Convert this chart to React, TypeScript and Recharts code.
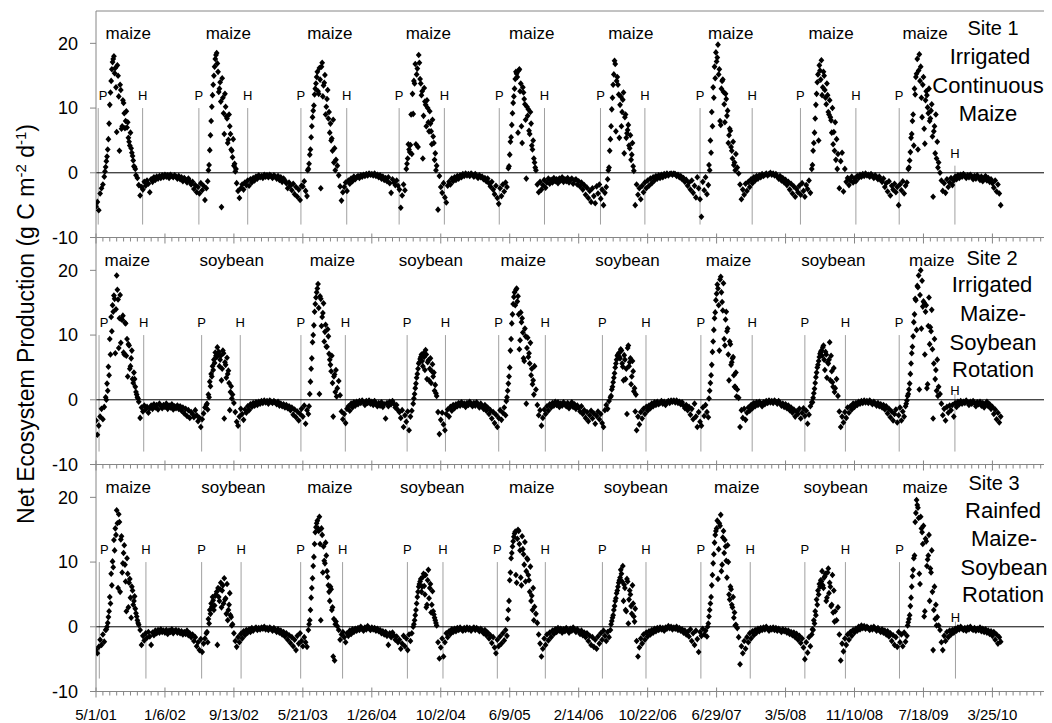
import React from "react";
import {
  ScatterChart,
  Scatter,
  XAxis,
  YAxis,
  ReferenceLine,
  ReferenceDot,
} from "recharts";

// daily NEP sampled every 5 days, day 0 = 5/1/01
const stepDays = 5;

const tickLabels = [
  "5/1/01", "1/6/02", "9/13/02", "5/21/03", "1/26/04", "10/2/04", "6/9/05",
  "2/14/06", "10/22/06", "6/29/07", "3/5/08", "11/10/08", "7/18/09", "3/25/10",
];
const yTicks = [-10, 0, 10, 20];

const site1Nep = [
  -5.2, -4.5, -5.8, -3.2, -2.4, -1.8, -0.6, 0.9, 2.5, 5.2,
  10.5, 14.2, 17.1, 18.0, 16.2, 6.3, 15.0, 3.4, 12.8, 7.2,
  10.8, 6.9, 9.5, 7.8, 4.8, 6.2, 3.1, 1.9, 0.9, -0.4,
  -0.8, -1.9, -3.5, -2.2, -2.6, -1.4, -2.0, -1.2, -1.7, -3.0,
  -1.0, -1.4, -0.7, -1.1, -0.6, -0.9, -0.5, -0.8, -0.4, -0.7,
  -0.3, -0.6, -0.4, -0.8, -0.3, -0.5, -0.7, -0.4, -0.6, -0.9,
  -0.5, -1.0, -0.7, -1.3, -0.8, -1.1, -1.5, -0.9, -1.3, -1.8,
  -1.4, -2.5, -1.9, -3.0, -2.2, -3.2, -1.6, -2.7, -2.0, -4.2,
  -2.4, -1.3, 1.2, 5.8, 10.2, 13.6, 16.4, 18.2, 16.9, 12.5,
  14.0, -5.3, 11.6, 6.0, 10.2, 8.4, 5.1, 7.2, 3.6, 2.4,
  1.1, 0.2, -1.6, -2.8, -3.9, -2.4, -1.8, -2.6, -1.5, -1.9,
  -1.2, -2.0, -1.0, -1.5, -0.8, -1.2, -0.6, -0.9, -0.4, -0.7,
  -0.5, -0.8, -0.3, -0.6, -0.4, -0.7, -0.3, -0.5, -0.8, -0.4,
  -0.6, -0.9, -0.5, -1.1, -0.7, -1.4, -0.9, -1.2, -1.6, -2.4,
  -1.5, -2.0, -2.7, -1.7, -3.3, -2.2, -3.7, -2.6, -4.2, -2.0,
  -2.1, -1.3, -2.8, -3.6, 0.6, 2.8, 5.5, 8.6, 10.4, 13.0,
  14.8, 12.6, 16.2, -2.4, 17.0, 13.5, 15.1, 10.2, 12.8, 9.4,
  7.6, 5.3, 8.2, 3.8, 2.0, 1.1, -0.4, -2.1, -4.3, -3.0,
  -2.2, -1.5, -2.8, -1.2, -1.7, -0.9, -1.3, -0.6, -1.0, -0.7,
  -0.5, -0.8, -0.4, -0.6, -0.3, -0.5, -0.2, -0.4, -0.1, -0.3,
  -0.2, -0.4, -0.1, -0.5, -0.3, -0.7, -0.4, -0.9, -0.6, -1.1,
  -0.8, -1.3, -0.7, -1.6, -3.1, -1.0, -1.5, -1.9, -1.2, -2.0,
  -2.6, -5.4, -3.5, -1.8, -2.7, 0.6, 2.2, 3.6, 4.3, 2.9,
  9.1, 13.8, 4.4, 16.1, 18.2, 14.5, 12.0, 2.2, 13.1, 10.5,
  11.2, 7.8, 9.5, 6.4, 8.2, 4.6, 3.0, 1.1, -5.7, -0.5,
  -2.2, -3.1, -1.6, -3.8, -4.6, -2.0, -1.4, -1.8, -0.9, -1.3,
  -0.7, -1.1, -0.5, -0.9, -0.4, -0.7, -0.2, -0.5, -0.1, -0.4,
  -0.2, -0.5, -0.1, -0.3, -0.6, -0.2, -0.5, -0.8, -0.4, -0.7,
  -0.6, -1.0, -0.8, -1.3, -0.9, -1.6, -2.1, -1.4, -2.6, -3.3,
  -2.0, -3.9, -4.8, -2.4, -3.6, -1.8, -2.9, -1.5, -2.2, 0.7,
  2.8, 5.5, 9.2, 11.8, 14.5, 15.3, 6.2, 16.0, 13.8, 4.6,
  12.4, 10.6, -0.9, 8.8, 6.5, 9.4, 4.2, 5.0, 1.6, 0.4,
  -1.8, -3.0, -1.4, -2.6, -1.9, -1.1, -2.3, -1.5, -0.9, -1.7,
  -1.1, -1.5, -0.8, -1.3, -1.0, -1.6, -0.9, -1.2, -0.7, -1.4,
  -1.0, -1.3, -0.8, -1.5, -1.1, -0.9, -1.7, -1.2, -1.0, -1.8,
  -1.3, -2.1, -1.5, -2.6, -1.9, -3.4, -2.3, -3.9, -2.8, -4.5,
  -2.4, -3.6, -4.7, -2.1, -3.2, -1.8, -4.0, -2.6, -5.0, -3.1,
  -2.2, -1.0, 0.8, 5.2, 9.8, 13.6, 17.3, 6.4, 14.8, 12.1,
  10.5, 7.2, 11.3, 3.0, 9.0, 6.1, 7.4, 3.8, 2.0, 4.6,
  0.3, -5.0, -1.8, -3.4, -2.4, -4.1, -2.0, -3.0, -1.5, -2.4,
  -1.2, -2.0, -0.9, -1.6, -0.7, -1.2, -0.5, -0.9, -0.4, -0.8,
  -0.3, -0.7, -0.2, -0.5, -0.1, -0.4, -0.2, -0.1, -0.3, -0.1,
  -0.2, -0.5, -0.3, -0.7, -0.5, -1.0, -0.8, -1.4, -1.1, -2.0,
  -1.5, -2.6, -1.2, -3.1, -2.0, -3.8, -0.7, -2.4, -4.1, -6.8,
  -1.4, -2.7, -0.7, -3.3, -1.9, 0.4, 3.1, 7.2, 11.6, 14.6,
  17.2, 19.8, 16.0, 7.4, 14.2, 12.5, 7.8, 11.4, 9.6, 5.8,
  6.5, 3.4, 4.8, 1.6, 2.9, 0.8, -0.1, -1.8, -4.1, -2.6,
  -3.4, -1.7, -2.8, -1.4, -2.2, -1.0, -1.6, -0.7, -1.2, -0.5,
  -0.9, -0.4, -0.7, -0.2, -0.5, -0.3, -0.1, -0.4, -0.2, 0.0,
  -0.3, -0.1, -0.4, -0.2, -0.6, -0.9, -0.5, -1.2, -0.8, -1.5,
  -1.1, -1.9, -1.4, -2.6, -1.7, -3.2, -2.1, -3.7, -2.5, -3.0,
  -2.0, -3.4, -1.6, -2.8, -3.7, -1.9, -2.5, -1.2, -3.1, 0.6,
  3.4, 6.2, 10.5, 14.0, 5.0, 15.8, 17.4, 13.2, 15.0, 11.6,
  13.8, 9.4, 11.2, 8.1, 10.0, 6.3, 7.8, 5.2, 2.9, -2.4,
  1.8, 3.1, -2.9, 0.6, -1.4, -0.8, -1.9, -1.2, -0.6, -1.5,
  -0.9, -1.3, -0.5, -0.8, -0.3, -0.6, -0.2, -0.5, -0.1, -0.4,
  -0.3, -0.6, -0.2, -0.5, -0.8, -0.4, -0.7, -1.0, -0.6, -1.1,
  -1.4, -0.9, -2.2, -1.6, -2.9, -1.3, -3.5, -2.0, -2.6, -1.7,
  -3.0, -2.2, -5.0, -1.8, -2.7, -1.3, -3.2, -2.0, -1.5, 0.6,
  1.9, 5.4, 8.0, 4.2, 12.1, 15.3, 3.6, 18.3, 16.4, 8.6,
  14.8, 4.5, 12.6, 10.1, 13.0, 8.4, 10.6, -3.7, 7.2, 9.0,
  4.8, 1.6, 0.0, -1.2, -2.8, -1.6, -3.1, -1.0, -2.2, -1.5,
  -0.8, -1.9, -1.2, -0.6, -1.0, -0.4, -0.8, -0.3, -0.6, -0.2,
  -0.5, -0.8, -0.4, -0.7, -0.3, -0.6, -1.0, -0.5, -0.9, -0.4,
  -0.7, -1.1, -0.6, -1.3, -0.9, -0.5, -1.2, -0.8, -1.4, -1.0,
  -1.6, -2.3, -1.2, -2.9, -1.8, -3.2, -5.0,
];

const site2Nep = [
  -3.2, -5.4, -4.0, -2.6, -1.4, -3.0, -1.1, 0.4, 2.5, 5.1,
  9.4, 12.8, 14.6, 16.1, 7.2, 19.2, 15.5, 12.6, 8.8, 12.4,
  7.3, 11.9, 6.8, 3.6, 8.4, 5.2, 7.6, 2.6, 3.2, 1.2,
  0.4, -0.3, -2.8, -1.2, -1.8, -0.9, -1.5, -1.1, -2.0, -1.3,
  -0.9, -1.4, -0.7, -1.2, -0.8, -1.5, -0.6, -1.0, -1.3, -0.8,
  -1.1, -0.6, -1.4, -0.9, -1.2, -0.7, -1.5, -1.0, -1.3, -0.9,
  -1.4, -1.0, -1.7, -1.2, -2.1, -1.4, -2.5, -1.6, -2.8, -1.9,
  -2.2, -2.7, -1.6, -2.4, -3.3, -2.8, -4.2, -3.0, -2.1, -1.2,
  -0.8, -1.5, 0.4, 2.1, 3.6, 4.6, 5.7, 6.8, 8.1, 7.4,
  6.2, 3.0, 7.6, -2.9, 5.4, 6.5, 4.5, -1.6, 2.1, 0.8,
  -0.5, -1.9, -3.4, -4.0, -2.6, -1.4, -2.2, -3.1, -1.5, -2.0,
  -1.0, -1.6, -0.7, -1.1, -0.5, -0.9, -0.4, -0.8, -0.3, -0.6,
  -0.2, -0.5, -0.1, -0.4, -0.2, -0.6, -0.1, -0.3, -0.5, -0.2,
  -0.4, -0.7, -0.3, -0.9, -0.6, -1.0, -0.7, -1.2, -0.8, -1.3,
  -1.0, -1.6, -1.2, -2.3, -1.5, -2.7, -1.8, -3.2, -2.2, -1.4,
  -2.6, -0.9, -3.7, -1.6, -2.2, 0.9, 4.8, 8.9, 11.5, 14.8,
  16.6, 17.9, 0.9, 15.6, 12.8, 14.9, 10.5, 8.2, 10.9, 7.1,
  5.4, 6.8, -2.6, 3.9, 4.6, 1.8, 2.9, 0.7, -1.8, -3.0,
  -2.2, -3.6, -1.4, -1.0, -1.7, -0.6, -1.2, -0.4, -0.9, -0.3,
  -0.7, -0.2, -0.5, -0.1, -0.4, -0.8, -0.2, -0.5, -0.1, -0.6,
  -0.3, -0.8, -0.2, -0.6, -1.0, -0.5, -0.9, -0.4, -1.1, -0.7,
  -2.9, -0.5, -1.0, -0.3, -0.7, -0.2, -0.6, -1.2, -0.8, -1.6,
  -1.9, -2.8, -1.6, -4.2, -2.4, -3.4, -1.8, -4.7, -2.6, -1.7,
  -0.6, 0.9, 2.5, 4.0, 5.6, 6.3, 7.0, 5.2, 6.6, 7.7,
  3.2, 6.1, 4.8, 2.6, 5.5, 4.2, 2.3, 0.6, -1.9, -5.3,
  -3.1, -2.0, -3.8, -4.7, -2.2, -1.5, -2.6, -1.1, -1.7, -0.8,
  -1.3, -0.7, -1.0, -0.5, -0.9, -0.4, -0.8, -0.6, -1.1, -0.5,
  -0.8, -0.3, -0.7, -1.0, -0.5, -0.9, -0.4, -0.8, -1.2, -0.6,
  -1.0, -1.4, -0.8, -1.7, -1.2, -2.2, -1.6, -2.9, -1.9, -3.6,
  -2.3, -4.2, -2.8, -1.6, -3.1, -2.0, -1.2, -2.4, 0.4, 2.5,
  5.0, 9.4, 13.2, 15.9, 14.6, 17.2, 16.0, 7.8, 13.5, 12.6,
  6.4, 11.0, -0.6, 9.6, 7.2, 8.8, 4.8, 3.0, 5.2, 1.6,
  -0.8, -2.4, -1.6, -4.0, -2.8, -1.5, -2.2, -1.0, -1.7, -0.7,
  -1.2, -0.5, -0.9, -0.3, -0.8, -0.4, -1.1, -0.6, -0.9, -0.4,
  -0.7, -1.0, -0.5, -1.3, -0.8, -0.4, -1.1, -0.7, -1.4, -0.9,
  -1.2, -1.8, -1.0, -2.2, -1.6, -2.8, -1.9, -3.3, -2.4, -1.7,
  -2.9, -2.1, -3.7, -2.5, -1.8, -3.0, -2.2, -3.6, -4.2, -1.6,
  -0.8, -1.4, -0.2, 0.4, 1.6, 2.7, 4.1, 5.6, 6.8, 7.2,
  6.4, 7.6, 5.1, 6.9, 3.2, -2.2, 8.4, 5.8, 2.4, 6.0,
  1.3, -1.8, -4.7, -2.6, -3.8, -1.9, -2.9, -1.4, -2.2, -1.1,
  -1.7, -0.9, -1.3, -0.6, -1.0, -0.4, -0.8, -0.3, -0.7, -0.5,
  -0.2, -0.6, -0.3, -0.8, -0.4, -0.2, -0.5, -0.1, -0.3, -0.1,
  -0.4, -0.1, -0.5, -0.3, -0.7, -0.4, -0.9, -1.3, -0.8, -1.6,
  -1.1, -2.3, -1.4, -3.0, -0.6, -2.6, -4.2, -1.9, -3.4, -4.0,
  -1.2, -2.5, -0.8, -1.9, -2.7, 1.4, 3.8, 7.4, 10.8, 13.5,
  16.4, 17.2, 7.6, 19.0, 15.1, 18.0, 8.4, 13.6, 11.0, 3.0,
  8.6, 5.8, 6.6, 2.0, 4.2, 1.6, 0.3, -4.2, -1.6, -2.8,
  -1.4, -3.1, -2.0, -1.2, -1.7, -0.8, -1.3, -0.5, -1.0, -0.4,
  -0.8, -0.3, -0.6, -1.0, -0.4, -0.7, -0.2, -0.5, -0.1, -0.4,
  -0.2, -0.5, -0.1, -0.3, -0.6, -0.2, -0.5, -0.9, -0.6, -1.1,
  -0.7, -1.3, -0.9, -1.6, -1.2, -2.0, -1.5, -2.6, -1.8, -2.2,
  -1.4, -2.9, -2.0, -1.3, -2.5, -1.7, -3.7, -2.3, -1.0, -0.4,
  0.3, 1.7, 3.5, 5.0, 6.0, 7.1, 7.6, 8.1, 6.2, 7.4,
  3.4, 5.6, 8.9, 6.8, 2.7, 4.9, 1.8, 3.2, 0.6, -1.8,
  -4.2, -2.6, -3.5, -1.9, -2.8, -1.2, -2.0, -1.0, -1.5, -0.6,
  -1.1, -0.5, -0.8, -0.3, -0.6, -0.2, -0.5, -0.1, -0.4, -0.2,
  -0.5, -0.1, -0.4, -0.7, -0.3, -0.6, -0.9, -0.5, -1.0, -0.7,
  -1.2, -0.8, -1.5, -1.0, -2.1, -1.4, -2.7, -1.8, -3.2, -2.2,
  -1.5, -3.5, -2.4, -1.2, -3.2, -1.8, -2.6, -1.0, -0.1, 0.9,
  2.5, 5.6, 8.2, 12.0, 15.6, 10.8, 17.4, 1.6, 20.0, 18.4,
  15.2, 7.0, 14.6, 2.4, 15.8, 11.2, 13.9, -2.9, 9.4, 4.6,
  6.2, 2.0, 0.9, -0.6, -2.4, -1.4, -3.2, -1.1, -2.0, -0.9,
  -1.6, -0.8, -2.6, -0.5, -1.1, -0.3, -0.7, -0.2, -0.6, -0.3,
  -0.5, -0.1, -0.4, -0.8, -0.3, -0.6, -0.2, -0.5, -1.0, -0.4,
  -0.7, -0.3, -0.9, -0.5, -1.2, -0.6, -0.3, -1.0, -0.7, -1.4,
  -1.1, -2.2, -1.5, -3.0, -2.0, -3.5, -2.6,
];

const site3Nep = [
  -3.6, -4.1, -3.1, -2.0, -2.8, -1.2, -2.3, -0.5, 0.0, 1.5,
  4.6, 8.2, 10.1, 13.4, 15.2, 18.0, 6.0, 16.2, 13.5, 8.4,
  11.4, 9.6, 2.4, 8.2, 6.8, 4.5, 6.2, 3.4, 4.7, 2.1,
  1.0, 0.3, -0.5, -2.8, -1.4, -2.1, -1.0, -1.7, -0.8, -1.5,
  -2.8, -0.9, -1.3, -0.6, -1.0, -0.5, -0.9, -0.4, -0.8, -0.6,
  -0.9, -0.5, -1.1, -0.6, -0.8, -0.4, -1.0, -0.7, -0.5, -0.9,
  -0.6, -1.0, -0.7, -1.2, -0.8, -1.1, -0.6, -1.3, -1.0, -1.6,
  -1.2, -2.2, -1.6, -3.0, -2.4, -3.6, -1.9, -3.9, -2.6, -1.8,
  -1.0, -2.4, 0.5, 2.0, 3.1, 4.1, 3.3, 5.0, -2.8, 4.6,
  5.8, 3.0, 6.4, 7.5, 4.4, 6.6, 2.6, 5.2, 1.5, 0.4,
  -1.0, -2.2, -3.1, -1.6, -2.4, -1.1, -1.8, -0.7, -1.3, -0.5,
  -0.9, -0.4, -0.8, -0.2, -0.6, -0.3, -0.1, -0.5, -0.2, -0.4,
  -0.1, -0.3, 0.0, -0.4, -0.2, -0.5, -0.1, -0.3, -0.6, -0.2,
  -0.5, -0.8, -0.4, -0.9, -0.6, -1.2, -0.8, -1.5, -1.0, -2.0,
  -1.3, -2.5, -1.6, -3.0, -2.0, -3.6, -1.4, -2.6, -1.0, -2.2,
  -3.0, -1.6, -2.4, -3.1, -0.5, 1.0, 4.5, 7.5, 10.8, 14.6,
  16.0, 15.2, 17.0, 1.0, 14.2, 12.4, 9.8, 11.0, 7.7, 5.4,
  6.2, 2.6, -4.6, -5.2, 0.8, 0.1, -0.5, -2.0, -1.2, -0.8,
  -1.6, -2.4, -1.0, -1.4, -0.6, -1.1, -0.4, -0.8, -0.3, -0.6,
  -0.2, -0.5, 0.0, -0.3, -0.6, -0.1, -0.4, 0.1, -0.2, -0.5,
  -0.1, -0.4, -0.2, -0.6, -0.3, -0.7, -0.5, -1.0, -0.7, -1.2,
  -0.8, -1.4, -2.8, -1.0, -1.6, -0.9, -1.3, -2.0, -1.5, -2.4,
  -2.0, -3.4, -2.6, -1.4, -3.0, -1.8, -3.6, -1.2, -2.2, -1.0,
  0.0, 1.0, 2.6, 4.6, 6.2, 7.0, 5.4, 7.7, 6.3, 8.0,
  3.4, 8.8, 6.0, 2.2, 5.5, 1.9, 1.0, 0.2, -2.4, -4.9,
  -3.2, -1.8, -4.6, -2.4, -1.0, -1.6, -0.7, -1.1, -0.4, -0.8,
  -0.3, -0.7, -0.2, -0.5, -0.1, -0.4, -0.6, -0.2, -0.5, -0.1,
  -0.4, -0.2, -0.6, -0.3, -0.1, -0.5, -0.2, -0.4, -0.7, -0.3,
  -0.6, -1.0, -0.5, -1.3, -0.9, -1.8, -1.3, -2.5, -1.6, -3.2,
  -4.1, -2.0, -3.0, -1.5, -2.6, -1.0, -2.1, -0.5, -1.4, 2.6,
  7.2, 10.6, 12.4, 13.9, 14.7, 6.8, 15.0, 12.8, 7.6, 14.0,
  11.2, 13.1, 8.6, 10.4, 7.2, 9.3, 4.8, 6.0, 3.1, 2.0,
  0.6, -1.2, -2.6, -4.6, -3.4, -1.8, -2.8, -1.2, -2.1, -0.9,
  -1.6, -0.6, -1.1, -0.4, -0.8, -0.2, -0.6, -0.3, -0.9, -0.4,
  -0.7, -0.2, -0.5, -0.9, -0.3, -0.6, -0.1, -0.5, -0.8, -0.4,
  -0.7, -1.1, -0.6, -1.3, -0.9, -1.6, -1.0, -2.2, -1.4, -2.8,
  -1.6, -3.1, -2.0, -3.4, -1.5, -2.6, -1.0, -2.0, -0.6, -1.4,
  -2.2, -0.8, -1.6, -0.5, 0.9, 1.8, 3.2, 4.4, 5.6, 6.8,
  7.6, 8.2, 9.4, 6.5, 2.6, 7.4, 0.5, 5.6, 3.2, 6.4,
  1.6, 2.8, -2.2, -4.6, -3.2, -1.8, -2.6, -1.2, -2.0, -0.9,
  -1.5, -0.7, -1.2, -0.5, -0.9, -0.3, -0.7, -0.2, -0.5, -0.1,
  -0.4, -0.2, -0.6, -0.1, -0.3, 0.1, -0.2, 0.0, -0.4, -0.1,
  -0.3, 0.0, -0.5, -0.2, -0.6, -0.4, -0.9, -0.6, -1.2, -0.8,
  -1.5, -0.4, -2.2, -1.0, -2.8, -0.6, -1.9, -3.9, -0.8, -1.4,
  -0.3, -1.2, -0.6, -1.5, 0.5, 2.6, 4.6, 8.0, 11.2, 14.2,
  15.2, 7.4, 16.0, 17.3, 9.6, 14.8, 13.4, 10.2, 12.6, 5.0,
  6.2, 3.4, 4.6, 2.2, 0.3, -0.2, -1.6, -5.8, -3.0, -4.1,
  -2.2, -3.4, -1.6, -2.4, -1.0, -1.8, -0.7, -1.3, -0.5, -0.9,
  -0.3, -0.7, -0.2, -0.5, -0.1, -0.4, 0.0, -0.3, -0.6, -0.2,
  -0.4, -0.1, -0.5, -0.2, -0.6, -0.3, -0.5, -0.8, -0.4, -0.7,
  -0.5, -0.9, -0.6, -1.1, -0.8, -1.3, -0.9, -1.6, -1.1, -2.0,
  -1.4, -2.5, -1.8, -3.2, -5.0, -2.4, -4.0, -1.6, -3.0, -1.2,
  -0.5, 0.5, 1.8, 3.4, 5.0, 6.2, 7.0, 6.4, 7.6, 8.2,
  4.5, 9.0, 6.8, 3.2, 8.0, 5.6, 2.4, 1.0, 3.0, -1.2,
  -5.2, -2.6, -3.8, -1.8, -2.8, -1.2, -2.0, -0.8, -1.4, -0.5,
  -0.9, -0.3, -0.6, 0.0, -0.4, 0.2, -0.2, 0.1, -0.3, 0.0,
  -0.2, -0.5, -0.1, -0.4, 0.0, -0.3, -0.6, -0.2, -0.5, -0.8,
  -0.4, -0.9, -0.6, -1.2, -0.7, -1.5, -1.0, -2.2, -1.3, -2.8,
  -1.6, -3.1, -0.8, -2.4, -1.2, -3.0, -0.9, -2.3, -1.4, 0.7,
  1.8, 4.5, 7.8, 10.6, 16.2, 19.6, 18.4, 8.2, 17.0, 14.6,
  15.6, 2.4, 13.2, 10.4, 14.2, 9.0, 11.8, -3.6, 6.2, 3.4,
  1.5, 0.2, -0.5, -2.4, -3.6, -1.4, -2.2, -0.8, -1.6, -0.6,
  -1.2, -0.5, -0.9, -0.3, -0.6, -0.1, -0.4, 0.0, -0.3, -0.5,
  -0.2, -0.6, -0.1, -0.4, 0.0, -0.3, -0.5, -0.2, -0.6, -0.3,
  -0.5, -0.1, -0.7, -0.3, -0.8, -0.4, -0.9, -0.6, -1.1, -0.7,
  -1.4, -0.8, -2.0, -1.2, -2.6, -1.6, -2.3,
];

// extra growing-season readings (between the 5-day samples), one row per season;
// the row starts on the day given in the matching *SeasonStart entry
const site1SeasonStart = [32.5, 407.5, 767.5, 1127.5, 1497.5, 1857.5, 2222.5, 2597.5, 2947.5];
const site1SeasonNep = [
  [0.2, 1.8, 3.6, 7.6, 12.4, 16.0, 17.6, 15.4, 13.2, 16.6, 11.8, 13.6, 6.8, 11.2, 9.2, 8.0, 7.0, 5.4, 4.2, 3.8, 2.6, 1.0, 0.6],
  [0.4, 3.5, 8.0, 12.0, 15.0, 17.6, 18.5, 15.6, 13.0, 11.0, 14.6, 9.2, 12.2, 8.7, 4.6, 9.0, 6.0, 3.4, 5.2, 1.4, 0.6],
  [0.4, 1.4, 3.6, 7.2, 9.6, 12.1, 13.8, 15.6, 12.2, 14.4, 16.4, 11.8, 13.9, 9.0, 11.4, 8.4, 6.2, 5.0, 3.4, 1.6, 0.4],
  [1.4, 4.4, 3.2, 9.0, 12.2, 14.2, 16.8, 15.2, 4.0, 17.0, 13.8, 12.6, 8.8, 11.0, 7.2, 10.0, 6.4, 7.6, 4.4, 5.6, 2.0, 0.4],
  [1.0, 4.8, 7.4, 10.8, 13.0, 15.6, 14.8, 15.8, 12.6, 7.2, 13.2, 11.4, 8.2, 10.2, 9.8, 6.0, 7.6, 3.6, 2.2, 0.8],
  [0.4, 3.4, 7.2, 11.6, 15.2, 16.8, 14.2, 13.6, 5.4, 11.8, 9.4, 12.4, 8.6, 5.4, 6.6, 4.2, 5.8, 2.8, 1.0],
  [1.2, 5.0, 9.4, 13.2, 16.4, 18.6, 17.8, 15.2, 8.0, 13.0, 14.4, 10.6, 12.2, 8.8, 4.6, 6.8, 4.0, 2.2, 1.2, 0.4],
  [1.2, 4.6, 8.4, 12.2, 15.2, 16.6, 14.4, 12.0, 15.6, 12.8, 10.6, 12.0, 9.0, 8.6, 6.2, 4.4, 3.4, 2.0, 0.6],
  [0.8, 3.2, 6.0, 9.0, 13.0, 14.8, 17.6, 15.8, 14.2, 11.6, 13.6, 6.8, 11.2, 12.0, 9.2, 8.0, 9.6, 5.6, 6.4, 3.0, 2.2, 0.8],
];
const site2SeasonStart = [37.5, 402.5, 772.5, 1152.5, 1487.5, 1867.5, 2222.5, 2597.5, 2937.5];
const site2SeasonNep = [
  [0.0, 1.4, 3.8, 7.0, 10.6, 13.6, 15.6, 14.0, 17.0, 8.0, 16.2, 12.4, 13.0, 7.0, 11.8, 9.4, 8.6, 4.8, 6.4, 3.2, 4.2, 2.0, 0.8, 0.2],
  [-0.6, 0.8, 2.8, 4.0, 5.2, 6.2, 7.3, 6.6, 7.0, 5.2, 6.8, 4.8, 7.2, 5.8, 3.4, 4.0, 2.6, 1.2, 0.2],
  [-1.0, 2.8, 6.4, 10.0, 13.6, 15.8, 17.2, 14.2, 16.0, 11.4, 13.4, 9.0, 11.6, 8.2, 9.8, 6.2, 4.4, 2.6, 3.6, 1.2, 0.5],
  [0.2, 1.8, 3.4, 4.8, 5.8, 6.6, 6.0, 7.2, 4.6, 7.0, 5.8, 3.0, 6.4, 4.4, 3.6, 1.4, 1.0],
  [-0.2, 1.4, 3.6, 7.6, 11.8, 14.8, 16.6, 17.0, 15.2, 13.2, 9.2, 12.0, 10.4, 6.0, 9.8, 8.0, 6.6, 5.6, 3.8, 2.4, 0.8],
  [0.6, 2.0, 3.4, 5.0, 6.2, 7.0, 6.6, 7.8, 5.6, 3.0, 6.2, 4.8, 8.0, 5.2, 6.4, 3.6, 4.4, 1.8, 0.8],
  [0.2, 2.6, 5.4, 9.0, 12.6, 15.4, 17.8, 14.6, 18.6, 16.6, 13.8, 9.4, 12.4, 10.6, 7.0, 9.0, 5.4, 6.4, 3.8, 2.0, 0.5],
  [-0.4, 1.0, 2.6, 4.2, 5.4, 6.6, 7.4, 6.8, 8.4, 4.6, 7.0, 5.8, 6.2, 3.0, 4.4, 2.0, 1.2],
  [-0.6, 0.6, 1.6, 4.0, 7.2, 9.8, 13.2, 15.4, 17.6, 19.2, 16.2, 11.0, 14.4, 15.0, 13.6, 1.8, 11.4, 8.6, 10.6, 7.8, 5.6, 3.2, 1.4, 0.6],
];
const site3SeasonStart = [37.5, 402.5, 772.5, 1152.5, 1492.5, 1867.5, 2217.5, 2597.5, 2942.5];
const site3SeasonNep = [
  [-0.4, 0.6, 2.4, 3.6, 6.4, 9.2, 11.8, 14.2, 16.0, 17.4, 5.4, 14.0, 9.8, 12.6, 7.0, 10.6, 3.0, 7.4, 1.4, 5.6, 4.0, 2.8, 1.6, 0.6],
  [-0.8, 1.2, 2.6, 3.6, 4.6, 2.6, 4.8, 5.4, 6.0, 4.0, 6.8, 5.6, 3.6, 4.2, 2.0, 1.0, 3.4, 1.8, 0.2],
  [0.4, 2.6, 6.0, 9.4, 12.8, 15.4, 16.4, 14.8, 12.8, 15.2, 8.4, 10.2, 13.0, 8.6, 6.4, 4.0, 5.8, 3.0, 1.2, 0.4],
  [0.4, 1.8, 3.6, 5.4, 6.6, 7.4, 6.2, 8.2, 5.0, 3.0, 7.2, 4.4, 6.6, 3.4, 2.4, 1.4, 0.6],
  [1.2, 4.0, 8.4, 11.4, 13.2, 14.4, 8.0, 13.6, 14.8, 11.8, 6.4, 12.0, 9.6, 7.0, 10.6, 8.0, 5.4, 4.0, 2.6, 1.0],
  [0.4, 1.4, 2.6, 4.0, 5.2, 6.2, 7.2, 8.8, 7.0, 4.0, 6.0, 2.4, 7.0, 4.2, 5.0, 2.0, 3.6, 0.8],
  [0.0, 1.6, 3.6, 6.4, 9.8, 13.0, 14.8, 16.4, 12.0, 15.6, 8.6, 13.8, 11.4, 12.4, 7.6, 10.0, 4.2, 5.8, 3.0, 1.4, 0.2],
  [-0.4, 1.0, 2.4, 4.2, 5.6, 6.6, 7.2, 8.6, 6.0, 7.8, 4.0, 8.4, 5.2, 6.2, 3.4, 2.2, 0.8],
  [0.2, 1.2, 3.2, 6.2, 8.8, 11.0, 17.6, 18.8, 16.8, 6.6, 15.2, 12.8, 1.6, 13.6, 9.4, 11.0, 4.0, 8.4, 5.4, 2.6, 1.2, 0.2],
];

// planting (P) and harvest (H) days after 5/1/01
const site1Planting = [8, 373, 743, 1099, 1462, 1829, 2190, 2554, 2912];
const site1Harvest = [169, 550, 909, 1263, 1626, 1990, 2379, 2755, 3114];
const site2Planting = [11, 383, 743, 1128, 1460, 1836, 2193, 2570, 2912];
const site2Harvest = [173, 523, 904, 1267, 1629, 1994, 2379, 2717, 3114];
const site3Planting = [12, 383, 742, 1129, 1455, 1836, 2193, 2570, 2913];
const site3Harvest = [181, 526, 894, 1258, 1629, 1994, 2372, 2717, 3116];

const continuousCrops = ["maize", "maize", "maize", "maize", "maize", "maize", "maize", "maize", "maize"];
const rotationCrops = ["maize", "soybean", "maize", "soybean", "maize", "soybean", "maize", "soybean", "maize"];
const site1CropDays = [117, 480, 848, 1205, 1580, 1939, 2301, 2665, 3006];
const site2CropDays = [113, 492, 857, 1214, 1549, 1927, 2293, 2673, 3030];
const site3CropDays = [117, 498, 848, 1219, 1580, 1957, 2323, 2682, 3006];

const site1Notes = ["Site 1", "Irrigated", "Continuous", "Maize"];
const site2Notes = ["Site 2", "Irrigated", "Maize-", "Soybean", "Rotation"];
const site3Notes = ["Site 3", "Rainfed", "Maize-", "Soybean", "Rotation"];

const FONT = "'Liberation Sans', Arial, Helvetica, sans-serif";
const AXIS_GRAY = "#868686";
const MARK_GRAY = "#a0a0a0";
const DAY_MAX = 3437;
const PLOT_H = 226.5;
const tickDays = Array.from({ length: 138 }, (_, i) => i * 25);

const Diamond = (props: any) => {
  const { cx, cy } = props;
  if (cx == null || cy == null) return null;
  return (
    <path
      d={`M${cx},${cy - 3.3}L${cx + 2.9},${cy}L${cx},${cy + 3.3}L${cx - 2.9},${cy}Z`}
      fill="#000"
    />
  );
};

function DateTick(props: any) {
  const { x, y, payload, showLabel } = props;
  const v = payload.value;
  const major = v % 250 === 0;
  return (
    <g>
      <line
        x1={x}
        x2={x}
        y1={major ? y - 4 : y}
        y2={y + (major ? 6 : 4)}
        stroke={AXIS_GRAY}
      />
      {major && showLabel && (
        <text
          x={x}
          y={y + 23}
          textAnchor="middle"
          dominantBaseline="central"
          fontSize={15}
          fontFamily={FONT}
          fill="#000"
        >
          {tickLabels[v / 250]}
        </text>
      )}
    </g>
  );
}

type PanelProps = {
  values: number[];
  seasonStart: number[];
  seasonNep: number[][];
  planting: number[];
  harvest: number[];
  crops: string[];
  cropDays: number[];
  top: number;
  showDates: boolean;
  topBorder: boolean;
  lastHarvestTop: number;
  lastHarvestLabel: number;
};

function Panel({
  values,
  seasonStart,
  seasonNep,
  planting,
  harvest,
  crops,
  cropDays,
  top,
  showDates,
  topBorder,
  lastHarvestTop,
  lastHarvestLabel,
}: PanelProps) {
  const data = values.map((v, i) => ({ day: i * stepDays, nep: v }));
  seasonNep.forEach((row, s) =>
    row.forEach((v, i) => data.push({ day: seasonStart[s] + i * stepDays, nep: v }))
  );
  const mTop = 10;
  const mBottom = showDates ? 31 : 13;

  const marks = [
    ...planting.map((d, i) => ({ day: d, kind: "P", first: i === 0, last: false })),
    ...harvest.map((d, i) => ({ day: d, kind: "H", first: false, last: i === harvest.length - 1 })),
  ];

  return (
    <div style={{ position: "absolute", left: 0, top: top - mTop }}>
      <ScatterChart
        width={1052}
        height={mTop + PLOT_H + 1 + mBottom}
        margin={{ top: mTop, right: 8, bottom: mBottom, left: 0 }}
      >
        <XAxis
          type="number"
          dataKey="day"
          domain={[0, DAY_MAX]}
          ticks={tickDays}
          interval={0}
          height={1}
          tickSize={0}
          tickMargin={0}
          tickLine={false}
          axisLine={{ stroke: AXIS_GRAY }}
          tick={(p: any) => <DateTick {...p} showLabel={showDates} />}
          allowDataOverflow
        />
        <YAxis
          type="number"
          dataKey="nep"
          domain={[-10, 25]}
          ticks={yTicks}
          interval={0}
          width={96}
          tickSize={6}
          tickMargin={12}
          tickLine={{ stroke: AXIS_GRAY }}
          axisLine={{ stroke: AXIS_GRAY }}
          tick={{ fontSize: 18, fill: "#000", fontFamily: FONT }}
          allowDataOverflow
        />
        {topBorder && <ReferenceLine y={25} stroke={AXIS_GRAY} />}
        {marks.map((m) => (
          <ReferenceLine
            key={`${m.kind}-${m.day}`}
            segment={[
              { x: m.day, y: -8 },
              { x: m.day, y: m.last ? lastHarvestTop : 10 },
            ]}
            stroke={MARK_GRAY}
          />
        ))}
        {marks.map((m) => (
          <ReferenceDot
            key={`lab-${m.kind}-${m.day}`}
            x={m.day}
            y={m.last ? lastHarvestLabel : 12}
            r={0}
            ifOverflow="visible"
            shape={(p: any) => (
              <text
                x={p.cx + (m.first ? 5 : 0)}
                y={p.cy}
                textAnchor="middle"
                dominantBaseline="central"
                fontSize={13}
                fontFamily={FONT}
                fill="#000"
              >
                {m.kind}
              </text>
            )}
          />
        ))}
        {crops.map((c, i) => (
          <ReferenceDot
            key={`crop-${i}`}
            x={cropDays[i]}
            y={21.5}
            r={0}
            ifOverflow="visible"
            shape={(p: any) => (
              <text
                x={p.cx}
                y={p.cy}
                textAnchor="middle"
                dominantBaseline="central"
                fontSize={17}
                fontFamily={FONT}
                fill="#000"
              >
                {c}
              </text>
            )}
          />
        ))}
        <ReferenceLine y={0} stroke="#000" />
        <Scatter data={data} shape={Diamond} isAnimationActive={false} />
      </ScatterChart>
    </div>
  );
}

const notePlacement = [
  { notes: site1Notes, x: [993, 990, 988, 988], y: [28, 56, 85, 113] },
  { notes: site2Notes, x: [992, 992, 993, 993, 993], y: [258, 284, 313, 342, 369] },
  { notes: site3Notes, x: [994, 1003, 1004, 1004, 1003], y: [483, 510, 538, 567, 594] },
];

export default function App() {
  return (
    <div
      style={{
        position: "absolute",
        left: 0,
        top: 0,
        width: 1052,
        height: 723,
        background: "#fff",
        fontFamily: FONT,
        overflow: "hidden",
      }}
    >
      <Panel
        values={site1Nep}
        seasonStart={site1SeasonStart}
        seasonNep={site1SeasonNep}
        planting={site1Planting}
        harvest={site1Harvest}
        crops={continuousCrops}
        cropDays={site1CropDays}
        top={11}
        showDates={false}
        topBorder
        lastHarvestTop={1.1}
        lastHarvestLabel={3.0}
      />
      <Panel
        values={site2Nep}
        seasonStart={site2SeasonStart}
        seasonNep={site2SeasonNep}
        planting={site2Planting}
        harvest={site2Harvest}
        crops={rotationCrops}
        cropDays={site2CropDays}
        top={237.7}
        showDates={false}
        topBorder={false}
        lastHarvestTop={0.9}
        lastHarvestLabel={1.4}
      />
      <Panel
        values={site3Nep}
        seasonStart={site3SeasonStart}
        seasonNep={site3SeasonNep}
        planting={site3Planting}
        harvest={site3Harvest}
        crops={rotationCrops}
        cropDays={site3CropDays}
        top={464.5}
        showDates
        topBorder={false}
        lastHarvestTop={0.8}
        lastHarvestLabel={1.4}
      />
      <svg
        width={1052}
        height={723}
        style={{ position: "absolute", left: 0, top: 0, pointerEvents: "none" }}
      >
        <text
          transform="translate(34, 324) rotate(-90)"
          textAnchor="middle"
          fontSize={23}
          fontFamily={FONT}
          fill="#000"
        >
          Net Ecosystem Production (g C m
          <tspan dy={-8} fontSize={15}>-2</tspan>
          <tspan dy={8}> d</tspan>
          <tspan dy={-8} fontSize={15}>-1</tspan>
          <tspan dy={8}>)</tspan>
        </text>
        {notePlacement.map((g, gi) =>
          g.notes.map((n, i) => (
            <text
              key={`${gi}-${i}`}
              x={g.x[i]}
              y={g.y[i]}
              textAnchor="middle"
              dominantBaseline="central"
              fontSize={i === 0 ? 20 : 22}
              fontFamily={FONT}
              fill="#000"
            >
              {n}
            </text>
          ))
        )}
      </svg>
    </div>
  );
}
